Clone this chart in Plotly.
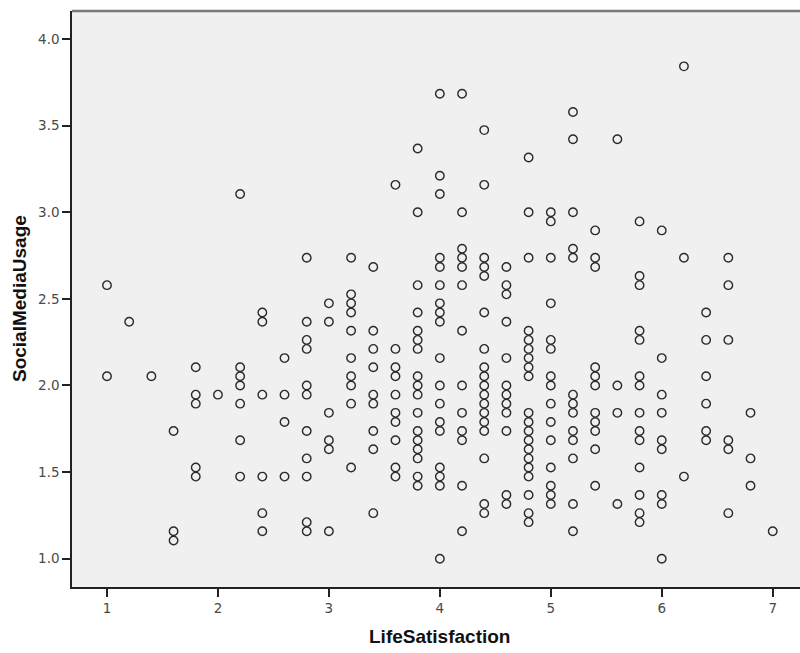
import plotly.graph_objects as go

# Data (LifeSatisfaction vs SocialMediaUsage), written column by column
life_satisfaction = (
    [1.0] * 2 + [1.2] * 1 + [1.4] * 1 + [1.6] * 3 + [1.8] * 5 + [2.0] * 1 + [2.2] * 7 + [2.4] * 6
    + [2.6] * 4 + [2.8] * 11 + [3.0] * 6 + [3.2] * 10 + [3.4] * 9 + [3.6] * 10 + [3.8] * 17
    + [4.0] * 18 + [4.2] * 13 + [4.4] * 18 + [4.6] * 12 + [4.8] * 20 + [5.0] * 15 + [5.2] * 13
    + [5.4] * 11 + [5.6] * 4 + [5.8] * 14 + [6.0] * 9 + [6.2] * 3 + [6.4] * 6 + [6.6] * 6
    + [6.8] * 3 + [7.0] * 1
)

social_media_usage = [
    # 1.0
    2.579, 2.053,
    # 1.2
    2.368,
    # 1.4
    2.053,
    # 1.6
    1.737, 1.158, 1.105,
    # 1.8
    2.105, 1.947, 1.895, 1.526, 1.474,
    # 2.0
    1.947,
    # 2.2
    3.105, 2.105, 2.053, 2.000, 1.895, 1.684, 1.474,
    # 2.4
    2.421, 2.368, 1.947, 1.474, 1.263, 1.158,
    # 2.6
    2.158, 1.947, 1.789, 1.474,
    # 2.8
    2.737, 2.368, 2.263, 2.211, 2.000, 1.947, 1.737, 1.579, 1.474, 1.211, 1.158,
    # 3.0
    2.474, 2.368, 1.842, 1.684, 1.632, 1.158,
    # 3.2
    2.737, 2.526, 2.474, 2.421, 2.316, 2.158, 2.053, 2.000, 1.895, 1.526,
    # 3.4
    2.684, 2.316, 2.211, 2.105, 1.947, 1.895, 1.737, 1.632, 1.263,
    # 3.6
    3.158, 2.211, 2.105, 2.053, 1.947, 1.842, 1.789, 1.684, 1.526, 1.474,
    # 3.8
    3.368, 3.000, 2.579, 2.421, 2.316, 2.263, 2.211, 2.053, 2.000, 1.947, 1.842, 1.737,
    1.684, 1.632, 1.579, 1.474, 1.421,
    # 4.0
    3.684, 3.211, 3.105, 2.737, 2.684, 2.579, 2.474, 2.421, 2.368, 2.158, 2.000, 1.895,
    1.789, 1.737, 1.526, 1.474, 1.421, 1.000,
    # 4.2
    3.684, 3.000, 2.789, 2.737, 2.684, 2.579, 2.316, 2.000, 1.842, 1.737, 1.684, 1.421, 1.158,
    # 4.4
    3.474, 3.158, 2.737, 2.684, 2.632, 2.421, 2.211, 2.105, 2.053, 2.000, 1.947, 1.895,
    1.842, 1.789, 1.737, 1.579, 1.316, 1.263,
    # 4.6
    2.684, 2.579, 2.526, 2.368, 2.158, 2.000, 1.947, 1.895, 1.842, 1.737, 1.368, 1.316,
    # 4.8
    3.316, 3.000, 2.737, 2.316, 2.263, 2.211, 2.158, 2.105, 2.053, 1.842, 1.789, 1.737,
    1.684, 1.632, 1.579, 1.526, 1.474, 1.368, 1.263, 1.211,
    # 5.0
    3.000, 2.947, 2.737, 2.474, 2.263, 2.211, 2.053, 2.000, 1.895, 1.789, 1.684, 1.526,
    1.421, 1.368, 1.316,
    # 5.2
    3.579, 3.421, 3.000, 2.789, 2.737, 1.947, 1.895, 1.842, 1.737, 1.684, 1.579, 1.316, 1.158,
    # 5.4
    2.895, 2.737, 2.684, 2.105, 2.053, 2.000, 1.842, 1.789, 1.737, 1.632, 1.421,
    # 5.6
    3.421, 2.000, 1.842, 1.316,
    # 5.8
    2.947, 2.632, 2.579, 2.316, 2.263, 2.053, 2.000, 1.842, 1.737, 1.684, 1.526, 1.368,
    1.263, 1.211,
    # 6.0
    2.895, 2.158, 1.947, 1.842, 1.684, 1.632, 1.368, 1.316, 1.000,
    # 6.2
    3.842, 2.737, 1.474,
    # 6.4
    2.421, 2.263, 2.053, 1.895, 1.737, 1.684,
    # 6.6
    2.737, 2.579, 2.263, 1.684, 1.632, 1.263,
    # 6.8
    1.842, 1.579, 1.421,
    # 7.0
    1.158,
]

x_ticks = [1, 2, 3, 4, 5, 6, 7]
y_ticks = [1.0, 1.5, 2.0, 2.5, 3.0, 3.5, 4.0]

fig = go.Figure()
fig.add_trace(go.Scatter(
    x=life_satisfaction,
    y=social_media_usage,
    mode="markers",
    marker=dict(symbol="circle-open", size=8.5, color="#2a2a2a", line=dict(width=1.4, color="#2a2a2a")),
    showlegend=False,
    hoverinfo="x+y",
))

tick_font = dict(family="DejaVu Sans, sans-serif", size=13.5, color="#4a4a4a")
title_font = dict(family="Liberation Sans, Arial, sans-serif", size=19, color="#111111")

fig.update_layout(
    width=800,
    height=653,
    margin=dict(l=72, r=0, t=11, b=66),
    paper_bgcolor="white",
    plot_bgcolor="#f0f0f0",
    xaxis=dict(
        range=[0.6846, 7.246],
        tickvals=x_ticks,
        ticktext=[str(v) for v in x_ticks],
        ticks="outside",
        ticklen=8,
        tickwidth=1.5,
        tickcolor="#222222",
        showgrid=False,
        zeroline=False,
        showline=True,
        linecolor="#222222",
        linewidth=1.5,
        tickfont=tick_font,
    ),
    yaxis=dict(
        range=[0.8366, 4.1616],
        tickvals=y_ticks,
        ticktext=[f"{v:.1f}" for v in y_ticks],
        ticks="outside",
        ticklen=8,
        tickwidth=1.5,
        tickcolor="#222222",
        showgrid=False,
        zeroline=False,
        showline=True,
        linecolor="#222222",
        linewidth=1.5,
        tickfont=tick_font,
    ),
    shapes=[
        dict(type="line", xref="paper", yref="paper", x0=0, x1=1, y0=1, y1=1,
             line=dict(color="#7a7a7a", width=2.5)),
    ],
    annotations=[
        dict(text="<b>LifeSatisfaction</b>", xref="paper", yref="paper",
             x=(439 - 72) / 728, y=-49 / 576, xanchor="center", yanchor="middle", showarrow=False,
             font=title_font),
        dict(text="<b>SocialMediaUsage</b>", xref="paper", yref="paper",
             x=-53 / 728, y=(587 - 299) / 576, xanchor="center", yanchor="middle", textangle=-90,
             showarrow=False, font=title_font),
    ],
)

fig.write_html(
    "out.html",
    config={"displayModeBar": False},
    post_script="document.body.style.margin='0';document.body.style.overflow='hidden';",
)
